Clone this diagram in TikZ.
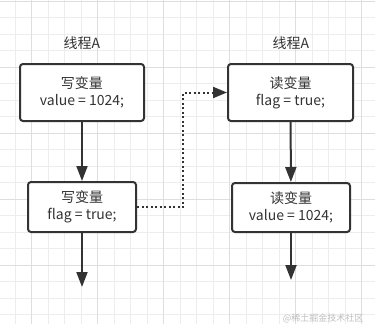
\documentclass[tikz,border=0pt]{standalone}
\usepackage{fontspec}
\setmainfont{Noto Sans CJK SC}
\usetikzlibrary{arrows.meta}
\definecolor{gridminor}{HTML}{EDEDED}
\definecolor{gridmajor}{HTML}{DEDEDE}
\definecolor{ink}{HTML}{333333}
\begin{document}
\begin{tikzpicture}[x=1pt,y=-1pt,
    box/.style={draw=ink,line width=2pt,rounded corners=3pt,fill=white,text=ink,align=center,
                font=\fontsize{14}{17}\selectfont,inner sep=0pt},
    title/.style={text=ink,font=\fontsize{14}{16}\selectfont},
    flow/.style={draw=ink,line width=2pt,-{Triangle[length=15pt,width=11pt]}},
    sync/.style={draw=ink,line width=2pt,dash pattern=on 2pt off 2.5pt,-{Triangle[length=14pt,width=11pt]}}]
    \useasboundingbox (0,0) rectangle (375,324);
    \fill[white] (0,0) rectangle (375,324);
    \foreach \i in {0,...,21}
        \draw[gridminor] ({15+16.5*\i},0) -- ({15+16.5*\i},324);
    \foreach \k in {0,...,19}
        \draw[gridminor] (0,{1+16.5*\k}) -- (375,{1+16.5*\k});
    \foreach \i in {1,5,...,21}
        \draw[gridmajor] ({15+16.5*\i},0) -- ({15+16.5*\i},324);
    \foreach \k in {0,4,...,16}
        \draw[gridmajor] (0,{1+16.5*\k}) -- (375,{1+16.5*\k});

    \node[title] (ta) at (82,43) {线程A};
    \node[title] (tb) at (291,43) {线程A};
    \node[box,minimum width=124pt,minimum height=57pt] (w1) at (82,92.5) {写变量\\value = 1024;};
    \node[box,minimum width=125pt,minimum height=57pt] (r1) at (290.5,92.5) {读变量\\flag = true;};
    \node[box,minimum width=108pt,minimum height=50pt] (w2) at (82,207) {写变量\\flag = true;};
    \node[box,minimum width=118pt,minimum height=49pt] (r2) at (291,207.5) {读变量\\value = 1024;};
    \coordinate (wend) at (82,287);
    \coordinate (rend) at (291,280);

    \draw[flow] (w1) -- (w2);
    \draw[flow] (w2) -- (wend);
    \draw[flow] (r1) -- (r2);
    \draw[flow] (r2) -- (rend);
    \draw[sync] (w2.east) -| ([xshift=-44pt]r1.west) -- (r1.west);

    \node[text=black!25,font=\fontsize{9}{9}\selectfont,anchor=east] (mark) at (367,318) {@稀土掘金技术社区};
\end{tikzpicture}
\end{document}
